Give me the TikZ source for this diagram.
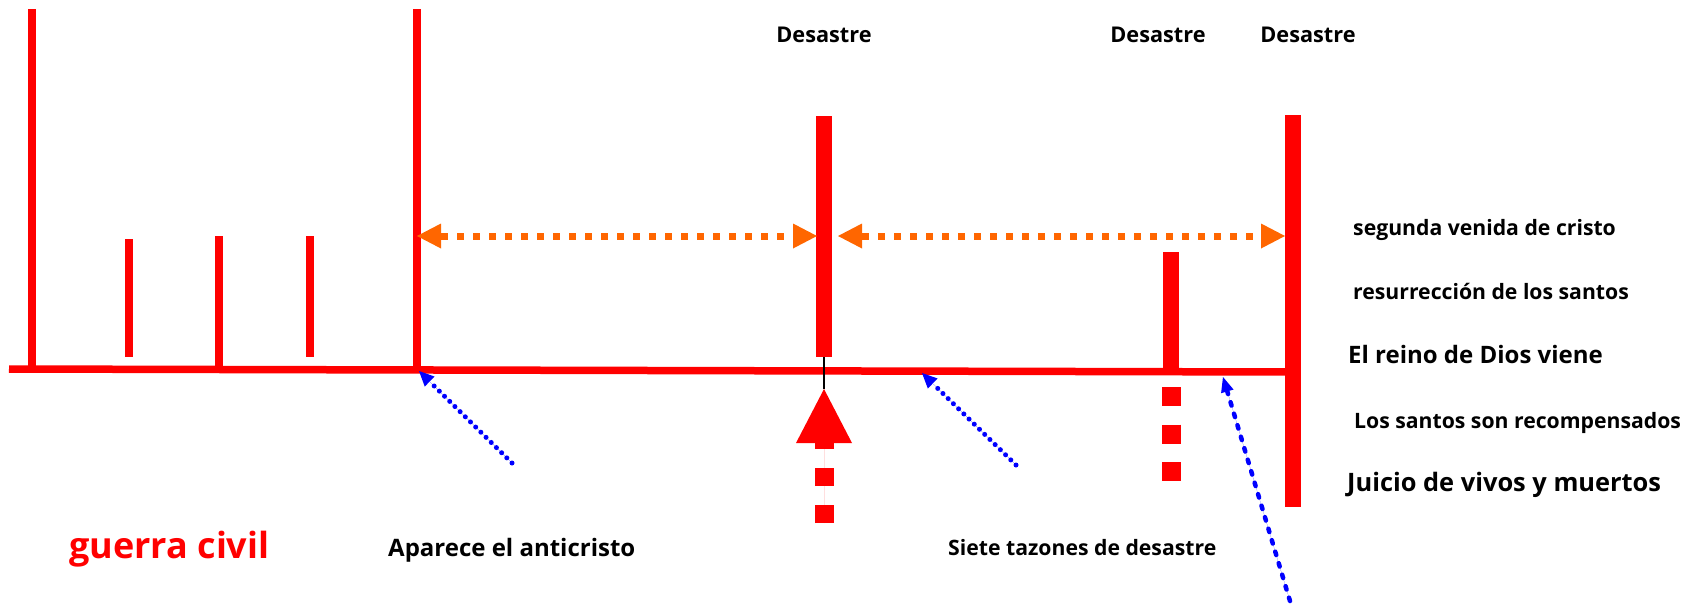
\documentclass[tikz,border=0pt]{standalone}
\usepackage{fontspec}
\setmainfont{Open Sans}
\usetikzlibrary{arrows.meta}
\definecolor{rd}{HTML}{FF0000}
\definecolor{org}{HTML}{FF6600}
\definecolor{blu}{HTML}{0000FF}
\begin{document}
\begin{tikzpicture}[x=1pt,y=-1pt,
  redline/.style={draw=rd, line width=7.5pt},
  bar/.style={draw=rd, line width=16pt},
  orangearrow/.style={draw=org, line width=7pt, dash pattern=on 7pt off 9pt,
    arrows={Triangle[length=24pt,width=25pt,line width=0pt]-Triangle[length=24pt,width=25pt,line width=0pt]}},
  bluedot/.style={draw=blu, fill=blu, line width=5pt, line cap=round, dash pattern=on 0pt off 7.3pt,
    arrows={-Triangle[length=15pt,width=14pt,line width=0pt]}},
  bluedash/.style={draw=blu, fill=blu, line width=4.5pt, line cap=round, dash pattern=on 3.5pt off 8.5pt,
    arrows={-Triangle[length=15pt,width=13pt,line width=0pt]}},
  bigup/.style={draw=rd, fill=rd, line width=19pt, dash pattern=on 18.5pt off 18.5pt,
    arrows={-Triangle[length=54pt,width=56pt,line width=0pt]}},
  squares/.style={draw=rd, line width=19pt, dash pattern=on 19pt off 18.5pt},
  lbl/.style={inner sep=0pt, anchor=base west, font=\bfseries\fontsize{21.2}{26}\selectfont},
  dlbl/.style={inner sep=0pt, anchor=base, font=\bfseries\fontsize{21.7}{26}\selectfont},
]
\useasboundingbox (0,0) rectangle (1684,606);
% coordinates
\coordinate (L0) at (9,369);
\coordinate (L1) at (1293,372);
\coordinate (v1t) at (32,9);   \coordinate (v1b) at (32,369);
\coordinate (v2t) at (417,9);  \coordinate (v2b) at (417,369);
\coordinate (t1t) at (129,239); \coordinate (t1b) at (129,357);
\coordinate (t2t) at (219,236); \coordinate (t2b) at (219,369);
\coordinate (t3t) at (310,236); \coordinate (t3b) at (310,357);
\coordinate (b1t) at (824,116); \coordinate (b1b) at (824,357);
\coordinate (b2t) at (1171,252); \coordinate (b2b) at (1171,372);
\coordinate (b3t) at (1293,115); \coordinate (b3b) at (1293,507);
% baseline and verticals
\draw[redline] (L0) -- (L1);
\draw[redline] (v1t) -- (v1b);
\draw[redline] (v2t) -- (v2b);
\draw[redline] (t1t) -- (t1b);
\draw[redline] (t2t) -- (t2b);
\draw[redline] (t3t) -- (t3b);
\draw[bar] (b1t) -- (b1b);
\draw[bar] (b2t) -- (b2b);
\draw[bar] (b3t) -- (b3b);
% orange double arrows
\coordinate (o1a) at (417,236); \coordinate (o1b) at (817,236);
\coordinate (o2a) at (838,236); \coordinate (o2b) at (1285,236);
\draw[orangearrow] (o1a) -- (o1b);
\draw[orangearrow] (o2a) -- (o2b);
% big red arrow
\coordinate (upS) at (824,523); \coordinate (upT) at (824,389);
\draw[bigup] (upS) -- (upT);
\draw[black, line width=1.5pt] (b1b) -- (upT);
% squares under bar 2
\coordinate (sqT) at (1171,387); \coordinate (sqB) at (1171,481);
\draw[squares] (sqT) -- (sqB);
% blue arrows
\coordinate (a1s) at (512,463); \coordinate (a1e) at (419,371);
\coordinate (a2s) at (1016,465); \coordinate (a2e) at (922,373);
\coordinate (a3s) at (1290,601); \coordinate (a3e) at (1223,377);
\draw[bluedot] (a1s) -- (a1e);
\draw[bluedot] (a2s) -- (a2e);
\draw[bluedash] (a3s) -- (a3e);
% labels
\node[dlbl] (d1) at (824,42) {Desastre};
\node[dlbl] (d2) at (1158,42) {Desastre};
\node[dlbl] (d3) at (1308,42) {Desastre};
\node[lbl] (r1) at (1353,235) {segunda venida de cristo};
\node[lbl] (r2) at (1353,299) {resurrección de los santos};
\node[lbl, font=\bfseries\fontsize{24}{29}\selectfont] (r3) at (1348,363) {El reino de Dios viene};
\node[lbl] (r4) at (1354,428) {Los santos son recompensados};
\node[lbl, font=\bfseries\fontsize{25.4}{31}\selectfont] (r5) at (1347,491) {Juicio de vivos y muertos};
\node[lbl] (s1) at (948,555) {Siete tazones de desastre};
\node[lbl, font=\bfseries\fontsize{24}{29}\selectfont] (s2) at (388,556) {Aparece el anticristo};
\node[lbl, text=rd, font=\bfseries\fontsize{36}{43}\selectfont] (s3) at (69,558) {guerra civil};
\end{tikzpicture}
\end{document}
